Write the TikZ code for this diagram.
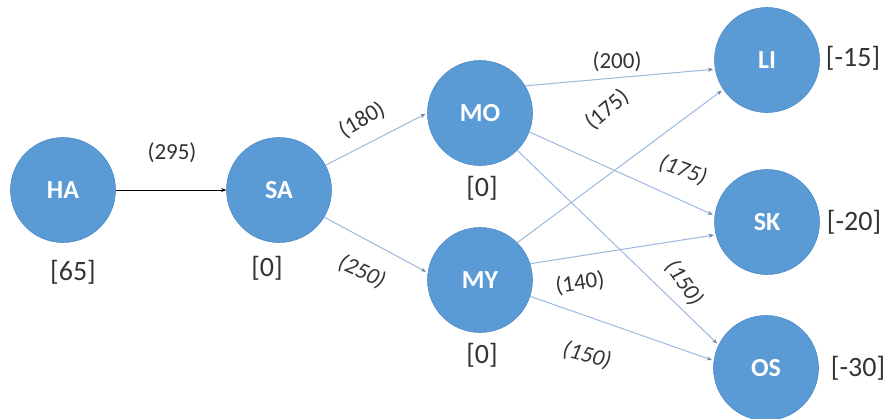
\documentclass[tikz,border=0pt]{standalone}
\usepackage{fontspec}
\setmainfont{Carlito}
\usetikzlibrary{arrows.meta}
\definecolor{nodeblue}{HTML}{5B9BD5}
\definecolor{nodeedge}{HTML}{4F8CC6}
\definecolor{edgeblue}{HTML}{9BB9DE}
\definecolor{labelgray}{HTML}{333333}
\begin{document}
\begin{tikzpicture}[x=1pt,y=-1pt,
  city/.style={circle, fill=nodeblue, draw=nodeedge, line width=0.6pt, minimum size=105pt, inner sep=0pt, text=white, font=\fontsize{26}{30}\selectfont\bfseries},
  val/.style={font=\fontsize{28}{32}\selectfont, text=labelgray, inner sep=0pt},
  cost/.style={font=\fontsize{23}{27}\selectfont, text=labelgray, inner sep=0pt},
  flow/.style={draw=edgeblue, line width=1pt, shorten >=2pt, -{Stealth[length=5pt,width=4pt,color=edgeblue!70!black]}},
  mainflow/.style={draw=black, line width=0.9pt, -{Stealth[length=5pt,width=4pt]}},
]
\useasboundingbox (0,0) rectangle (890,418);

\node[city] (HA) at (63,190) {HA};
\node[city] (SA) at (279,190) {SA};
\node[city] (MO) at (480,113) {MO};
\node[city] (MY) at (480,280) {MY};
\node[city] (LI) at (767,60) {LI};
\node[city] (SK) at (767,222) {SK};
\node[city] (OS) at (766,368) {OS};

\node[val] (vHA) at (73,272) {[65]};
\node[val] (vSA) at (267,268) {[0]};
\node[val] (vMO) at (482,188) {[0]};
\node[val] (vMY) at (482,355) {[0]};
\node[val] (vLI) at (853,58) {[-15]};
\node[val] (vSK) at (854,222) {[-20]};
\node[val] (vOS) at (858,368) {[-30]};

\draw[mainflow] (HA.east) -- (SA.west);
\draw[flow] (SA.28) -- (MO.180);
\draw[flow] (SA.-31) -- (MY.172);
\draw[flow] (MO.31) -- (LI.190);
\draw[flow] (MO.-21) -- (SK.173);
\draw[flow] (MO.-45) -- (OS.154);
\draw[flow] (MY.45) -- (LI.214);
\draw[flow] (MY.18) -- (SK.194);
\draw[flow] (MY.-18) -- (OS.172);

\node[cost] (c1) at (172,153) {(295)};
\node[cost, rotate=30] (c2) at (362,120) {(180)};
\node[cost, rotate=-25] (c3) at (362,272) {\itshape (250)};
\node[cost] (c4) at (617,62) {(200)};
\node[cost, rotate=40] (c5) at (607,110) {(175)};
\node[cost, rotate=-20] (c6) at (683,170) {\itshape (175)};
\node[cost, rotate=-55] (c7) at (684,283) {\itshape (150)};
\node[cost, rotate=8] (c8) at (580,283) {(140)};
\node[cost, rotate=-15] (c9) at (587,355) {\itshape (150)};
\end{tikzpicture}
\end{document}
